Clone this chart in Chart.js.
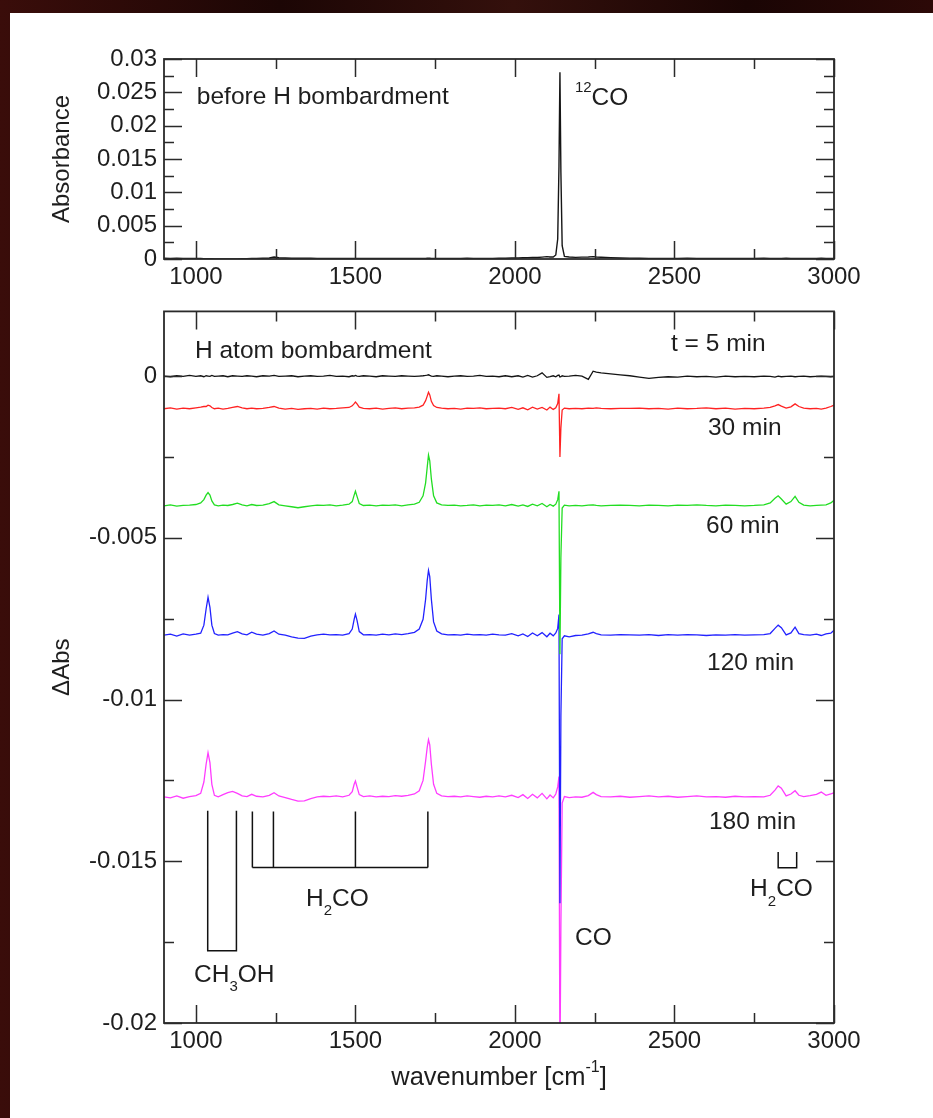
<!DOCTYPE html>
<html>
<head>
<meta charset="utf-8">
<script src="https://cdn.jsdelivr.net/npm/chart.js@4.4.1/dist/chart.umd.min.js"></script>
<style>
  html, body { margin: 0; padding: 0; }
  body {
    width: 933px; height: 1118px; position: relative; overflow: hidden;
    background: linear-gradient(90deg, #3a0d0a 0%, #1c0605 30%, #34100c 55%, #1a0504 80%, #2c0907 100%);
  }
  #sheet { position: absolute; left: 10px; top: 13px; right: 0; bottom: 0; background: #fff; }
  canvas { position: absolute; left: 0; }
  #topChart { top: 20px; }
  #mainChart { top: 290px; }
</style>
</head>
<body>
<div id="sheet"></div>
<canvas id="topChart" width="933" height="300"></canvas>
<canvas id="mainChart" width="933" height="828"></canvas>
<script>
// wavenumber grid (cm-1) shared by all spectra
const wn = [
  900, 920, 940, 960, 980, 1000, 1015, 1025, 1032, 1038,
  1044, 1050, 1058, 1070, 1085, 1100, 1115, 1130, 1145, 1160,
  1175, 1190, 1210, 1230, 1245, 1260, 1280, 1300, 1320, 1340,
  1360, 1380, 1400, 1420, 1440, 1460, 1480, 1490, 1496, 1500,
  1505, 1512, 1525, 1545, 1565, 1585, 1605, 1625, 1645, 1665,
  1685, 1700, 1712, 1720, 1725, 1729, 1733, 1738, 1745, 1755,
  1770, 1790, 1810, 1830, 1850, 1870, 1890, 1910, 1930, 1950,
  1970, 1990, 2010, 2025, 2040, 2055, 2070, 2085, 2100, 2110,
  2120, 2128, 2134, 2138, 2141, 2144, 2148, 2155, 2170, 2190,
  2210, 2230, 2245, 2255, 2270, 2300, 2330, 2360, 2390, 2420,
  2450, 2480, 2510, 2540, 2570, 2600, 2630, 2660, 2690, 2720,
  2750, 2780, 2800, 2815, 2825, 2835, 2850, 2865, 2878, 2890,
  2905, 2925, 2945, 2960, 2975, 2990, 3000
];

// absorbance before H bombardment (top panel)
const absBefore = [
  0.00012, 0.00010, 0.00011, 0.00009, 0.00010, 0.00008, 0.00007, 0.00006, 0.00006, 0.00005,
  0.00004, 0.00003, 0.00002, 0.00001, 0.00000, -0.00001, 0.00000, 0.00002, 0.00004, 0.00006,
  0.00008, 0.00010, 0.00012, 0.00016, 0.00030, 0.00018, 0.00014, 0.00012, 0.00012, 0.00011,
  0.00011, 0.00010, 0.00010, 0.00010, 0.00009, 0.00010, 0.00009, 0.00010, 0.00009, 0.00010,
  0.00010, 0.00009, 0.00010, 0.00009, 0.00010, 0.00009, 0.00010, 0.00009, 0.00010, 0.00009,
  0.00010, 0.00009, 0.00010, 0.00010, 0.00011, 0.00012, 0.00011, 0.00010, 0.00009, 0.00010,
  0.00010, 0.00009, 0.00010, 0.00010, 0.00011, 0.00010, 0.00009, 0.00010, 0.00010, 0.00011,
  0.00012, 0.00014, 0.00016, 0.00018, 0.00020, 0.00024, 0.00022, 0.00028, 0.00035, 0.00030,
  0.00030, 0.00060, 0.00300, 0.01400, 0.02800, 0.01300, 0.00200, 0.00040, 0.00030, 0.00025,
  0.00028, 0.00030, 0.00035, 0.00030, 0.00026, 0.00020, 0.00016, 0.00013, 0.00011, 0.00010,
  0.00010, 0.00009, 0.00010, 0.00011, 0.00010, 0.00009, 0.00010, 0.00010, 0.00009, 0.00010,
  0.00010, 0.00011, 0.00010, 0.00009, 0.00010, 0.00010, 0.00011, 0.00010, 0.00009, 0.00010,
  0.00010, 0.00009, 0.00010, 0.00011, 0.00010, 0.00009, 0.00010
];

// difference spectra during H atom bombardment (bottom panel, offset as plotted)
const dAbs5 = [
  0.00000, -0.00002, 0.00001, -0.00001, 0.00002, -0.00001, 0.00001, -0.00002, 0.00001, 0.00000,
  -0.00001, 0.00002, -0.00001, 0.00000, 0.00001, -0.00002, 0.00001, 0.00000, -0.00001, 0.00001,
  0.00000, -0.00002, 0.00001, 0.00000, 0.00002, -0.00001, 0.00000, 0.00001, -0.00002, 0.00000,
  0.00001, -0.00001, 0.00000, 0.00002, -0.00001, 0.00000, -0.00002, 0.00001, 0.00000, 0.00002,
  0.00000, -0.00001, 0.00001, 0.00000, -0.00002, 0.00001, 0.00000, -0.00001, 0.00001, 0.00000,
  -0.00001, 0.00000, 0.00001, 0.00002, 0.00003, 0.00004, 0.00002, 0.00000, -0.00001, 0.00001,
  0.00000, -0.00002, 0.00000, 0.00001, -0.00001, 0.00000, 0.00002, -0.00001, 0.00000, -0.00002,
  0.00001, -0.00002, 0.00001, -0.00003, 0.00002, -0.00003, 0.00001, 0.00010, -0.00004, -0.00002,
  0.00001, -0.00002, 0.00002, 0.00003, -0.00003, -0.00002, 0.00001, -0.00001, 0.00000, 0.00002,
  0.00000, -0.00010, 0.00015, 0.00012, 0.00010, 0.00007, 0.00004, 0.00001, -0.00003, -0.00007,
  -0.00004, -0.00002, -0.00003, 0.00000, -0.00002, -0.00001, -0.00003, 0.00000, -0.00002, -0.00001,
  -0.00002, 0.00000, -0.00001, -0.00003, 0.00000, -0.00002, -0.00001, 0.00000, -0.00002, -0.00001,
  0.00000, -0.00002, -0.00001, 0.00000, -0.00001, -0.00002, -0.00001
];
const dAbs30 = [
  -0.00101, -0.00098, -0.00102, -0.00099, -0.00101, -0.00098, -0.00096, -0.00094, -0.00094, -0.00090,
  -0.00092, -0.00097, -0.00101, -0.00099, -0.00102, -0.00100, -0.00097, -0.00094, -0.00098, -0.00101,
  -0.00099, -0.00101, -0.00100, -0.00097, -0.00094, -0.00099, -0.00102, -0.00100, -0.00103, -0.00101,
  -0.00100, -0.00102, -0.00099, -0.00101, -0.00100, -0.00098, -0.00097, -0.00092, -0.00085, -0.00080,
  -0.00086, -0.00096, -0.00100, -0.00101, -0.00099, -0.00102, -0.00100, -0.00098, -0.00101, -0.00099,
  -0.00098, -0.00096, -0.00090, -0.00076, -0.00062, -0.00050, -0.00058, -0.00078, -0.00091, -0.00097,
  -0.00099, -0.00101, -0.00100, -0.00102, -0.00099, -0.00100, -0.00098, -0.00101, -0.00100, -0.00099,
  -0.00101, -0.00097, -0.00103, -0.00098, -0.00104, -0.00096, -0.00102, -0.00097, -0.00105, -0.00096,
  -0.00103, -0.00098, -0.00085, -0.00055, -0.00250, -0.00160, -0.00105, -0.00099, -0.00101, -0.00100,
  -0.00101, -0.00099, -0.00100, -0.00098, -0.00100, -0.00101, -0.00100, -0.00100, -0.00099, -0.00101,
  -0.00100, -0.00102, -0.00099, -0.00101, -0.00100, -0.00098, -0.00101, -0.00099, -0.00102, -0.00100,
  -0.00101, -0.00099, -0.00097, -0.00092, -0.00088, -0.00093, -0.00099, -0.00095, -0.00086, -0.00094,
  -0.00099, -0.00101, -0.00100, -0.00102, -0.00099, -0.00094, -0.00090
];
const dAbs60 = [
  -0.00401, -0.00398, -0.00402, -0.00400, -0.00399, -0.00397, -0.00392, -0.00382, -0.00368, -0.00360,
  -0.00368, -0.00386, -0.00398, -0.00401, -0.00399, -0.00400, -0.00397, -0.00393, -0.00398, -0.00401,
  -0.00397, -0.00400, -0.00399, -0.00394, -0.00388, -0.00398, -0.00401, -0.00404, -0.00407, -0.00404,
  -0.00401, -0.00399, -0.00400, -0.00398, -0.00401, -0.00399, -0.00396, -0.00388, -0.00368, -0.00356,
  -0.00372, -0.00394, -0.00400, -0.00399, -0.00401, -0.00399, -0.00400, -0.00398, -0.00401, -0.00398,
  -0.00396, -0.00390, -0.00370, -0.00330, -0.00282, -0.00244, -0.00262, -0.00318, -0.00370, -0.00392,
  -0.00398, -0.00400, -0.00399, -0.00401, -0.00400, -0.00398, -0.00401, -0.00399, -0.00400, -0.00398,
  -0.00401, -0.00397, -0.00402, -0.00398, -0.00403, -0.00396, -0.00401, -0.00394, -0.00404, -0.00397,
  -0.00402, -0.00396, -0.00382, -0.00356, -0.00860, -0.00560, -0.00408, -0.00399, -0.00401, -0.00400,
  -0.00401, -0.00399, -0.00398, -0.00400, -0.00401, -0.00400, -0.00399, -0.00400, -0.00401, -0.00399,
  -0.00400, -0.00401, -0.00399, -0.00400, -0.00398, -0.00400, -0.00401, -0.00399, -0.00400, -0.00401,
  -0.00400, -0.00398, -0.00392, -0.00378, -0.00370, -0.00380, -0.00396, -0.00388, -0.00372, -0.00390,
  -0.00399, -0.00401, -0.00400, -0.00399, -0.00398, -0.00392, -0.00384
];
const dAbs120 = [
  -0.00801, -0.00798, -0.00804, -0.00797, -0.00801, -0.00798, -0.00795, -0.00770, -0.00720, -0.00684,
  -0.00715, -0.00770, -0.00796, -0.00801, -0.00799, -0.00800, -0.00795, -0.00790, -0.00797, -0.00800,
  -0.00792, -0.00798, -0.00801, -0.00796, -0.00788, -0.00798, -0.00801, -0.00806, -0.00810, -0.00811,
  -0.00804, -0.00800, -0.00798, -0.00800, -0.00799, -0.00801, -0.00796, -0.00782, -0.00752, -0.00736,
  -0.00755, -0.00790, -0.00800, -0.00799, -0.00801, -0.00798, -0.00800, -0.00797, -0.00799, -0.00796,
  -0.00792, -0.00782, -0.00752, -0.00690, -0.00632, -0.00601, -0.00620, -0.00690, -0.00760, -0.00788,
  -0.00797, -0.00800, -0.00799, -0.00801, -0.00798, -0.00800, -0.00799, -0.00801, -0.00798, -0.00800,
  -0.00801, -0.00796, -0.00803, -0.00797, -0.00805, -0.00794, -0.00803, -0.00793, -0.00806, -0.00795,
  -0.00803, -0.00794, -0.00780, -0.00737, -0.01630, -0.01050, -0.00812, -0.00803, -0.00806, -0.00802,
  -0.00801, -0.00797, -0.00792, -0.00796, -0.00800, -0.00801, -0.00799, -0.00800, -0.00801, -0.00799,
  -0.00802, -0.00799, -0.00801, -0.00799, -0.00800, -0.00802, -0.00800, -0.00801, -0.00799, -0.00801,
  -0.00800, -0.00799, -0.00796, -0.00780, -0.00770, -0.00778, -0.00800, -0.00794, -0.00776, -0.00796,
  -0.00799, -0.00801, -0.00798, -0.00802, -0.00797, -0.00795, -0.00786
];
const dAbs180 = [
  -0.01301, -0.01304, -0.01298, -0.01305, -0.01300, -0.01297, -0.01290, -0.01255, -0.01200, -0.01164,
  -0.01195, -0.01262, -0.01296, -0.01301, -0.01294, -0.01288, -0.01284, -0.01290, -0.01298, -0.01300,
  -0.01293, -0.01299, -0.01301, -0.01296, -0.01288, -0.01298, -0.01303, -0.01309, -0.01314, -0.01313,
  -0.01306, -0.01301, -0.01299, -0.01300, -0.01298, -0.01301, -0.01296, -0.01285, -0.01262, -0.01252,
  -0.01270, -0.01294, -0.01300, -0.01298, -0.01301, -0.01299, -0.01300, -0.01297, -0.01299, -0.01296,
  -0.01292, -0.01282, -0.01250, -0.01190, -0.01148, -0.01124, -0.01140, -0.01200, -0.01262, -0.01290,
  -0.01298, -0.01300, -0.01299, -0.01301, -0.01298, -0.01300, -0.01302, -0.01299, -0.01301, -0.01298,
  -0.01301, -0.01296, -0.01303, -0.01294, -0.01306, -0.01293, -0.01304, -0.01290, -0.01307, -0.01295,
  -0.01304, -0.01292, -0.01270, -0.01238, -0.02150, -0.01700, -0.01320, -0.01300, -0.01303, -0.01301,
  -0.01302, -0.01297, -0.01287, -0.01294, -0.01300, -0.01301, -0.01299, -0.01302, -0.01300, -0.01298,
  -0.01301, -0.01299, -0.01302, -0.01300, -0.01298, -0.01301, -0.01300, -0.01302, -0.01299, -0.01301,
  -0.01300, -0.01301, -0.01296, -0.01280, -0.01267, -0.01274, -0.01298, -0.01292, -0.01282, -0.01296,
  -0.01300, -0.01297, -0.01293, -0.01286, -0.01296, -0.01292, -0.01288
];

// axis ticks
const xTicks = [1000, 1500, 2000, 2500, 3000];
const xMinor = [1250, 1750, 2250, 2750];
const topYTicks = [0, 0.005, 0.01, 0.015, 0.02, 0.025, 0.03];
const topYMinor = [0.0025, 0.0075, 0.0125, 0.0175, 0.0225, 0.0275];
const mainYTicks = [-0.02, -0.015, -0.01, -0.005, 0];
const mainYMinor = [-0.0175, -0.0125, -0.0075, -0.0025];

// band assignment marks (wavenumbers)
const ch3ohBands = [1037, 1127];
const h2coBands = [1177, 1243, 1500, 1727];
const h2coHighBands = [2825, 2883];

const FONT = '"Liberation Sans", Arial, Helvetica, sans-serif';
const INK = '#1e1e1e';
const AXIS = '#2a2a2a';
Chart.defaults.font.family = FONT;
Chart.defaults.color = INK;

const fmt = v => String(+v.toFixed(4));
const pts = arr => wn.map((w, i) => ({ x: w, y: arr[i] }));

// text with sub/superscripts: parts = [[text, 0 normal | 1 sub | 2 sup], ...]
function richWidth(ctx, parts, size) {
  let w = 0;
  for (const [t, m] of parts) {
    ctx.font = (m ? Math.round(size * 0.62) : size) + 'px ' + FONT;
    w += ctx.measureText(t).width;
  }
  return w;
}
function drawRich(ctx, parts, x, y, size, align) {
  let cx = align === 'center' ? x - richWidth(ctx, parts, size) / 2 : x;
  ctx.textAlign = 'left';
  ctx.textBaseline = 'middle';
  ctx.fillStyle = INK;
  for (const [t, m] of parts) {
    const fs = m ? Math.round(size * 0.62) : size;
    ctx.font = fs + 'px ' + FONT;
    const dy = m === 1 ? size * 0.48 : m === 2 ? -size * 0.4 : 0;
    ctx.fillText(t, cx, y + dy);
    cx += ctx.measureText(t).width;
  }
}

// box around the plot with inward major / minor ticks on all four sides
function frameTicks(yMajor, yMinor) {
  return {
    id: 'frameTicks',
    afterDatasetsDraw(chart) {
      const { ctx, chartArea: a, scales: { x, y } } = chart;
      ctx.save();
      ctx.strokeStyle = AXIS;
      ctx.lineWidth = 1.5;
      ctx.beginPath();
      const xt = (vals, len) => vals.forEach(v => {
        const px = Math.round(x.getPixelForValue(v)) + 0.5;
        ctx.moveTo(px, a.bottom); ctx.lineTo(px, a.bottom - len);
        ctx.moveTo(px, a.top); ctx.lineTo(px, a.top + len);
      });
      const yt = (vals, len) => vals.forEach(v => {
        const py = Math.round(y.getPixelForValue(v)) + 0.5;
        ctx.moveTo(a.left, py); ctx.lineTo(a.left + len, py);
        ctx.moveTo(a.right, py); ctx.lineTo(a.right - len, py);
      });
      xt(xTicks, 18); xt(xMinor, 10);
      yt(yMajor, 18); yt(yMinor, 10);
      ctx.stroke();
      ctx.lineWidth = 1.8;
      ctx.strokeRect(a.left, a.top, a.right - a.left, a.bottom - a.top);
      ctx.restore();
    }
  };
}

function xScale(height, pad) {
  return {
    type: 'linear', min: 900, max: 3000,
    afterBuildTicks: s => { s.ticks = xTicks.map(v => ({ value: v })); },
    afterFit: s => { s.height = height; },
    grid: { display: false, drawTicks: false },
    border: { display: false },
    ticks: { padding: pad, font: { size: 24 }, color: INK, maxRotation: 0, autoSkip: false, callback: v => String(v) }
  };
}

function yScale(min, max, ticks, title) {
  return {
    type: 'linear', min: min, max: max,
    afterBuildTicks: s => { s.ticks = ticks.map(v => ({ value: v })); },
    afterFit: s => { s.width = 164; },
    grid: { display: false, drawTicks: false },
    border: { display: false },
    ticks: { padding: 7, font: { size: 24 }, color: INK, autoSkip: false, callback: v => fmt(v) },
    title: { display: true, text: title, font: { size: 24 }, color: INK, padding: { top: 48, bottom: 0 } }
  };
}

const lineDefaults = { pointRadius: 0, borderWidth: 1.3, tension: 0, fill: false };

// top panel
new Chart(document.getElementById('topChart'), {
  type: 'line',
  data: {
    datasets: [
      { ...lineDefaults, data: pts(absBefore), borderColor: '#161616', borderWidth: 1.4 }
    ]
  },
  options: {
    responsive: false, animation: false,
    layout: { padding: { top: 39, right: 99, left: 0, bottom: 0 } },
    plugins: { legend: { display: false }, tooltip: { enabled: false } },
    scales: {
      x: xScale(61, 4),
      y: yScale(0, 0.03, topYTicks, 'Absorbance')
    }
  },
  plugins: [frameTicks(topYTicks, topYMinor), {
    id: 'topNotes',
    afterDatasetsDraw(chart) {
      const { ctx, scales: { x, y } } = chart;
      ctx.save();
      drawRich(ctx, [['before H bombardment', 0]], x.getPixelForValue(1003), y.getPixelForValue(0.0243), 24.5);
      drawRich(ctx, [['12', 2], ['CO', 0]], x.getPixelForValue(2188), y.getPixelForValue(0.02415), 24.5);
      ctx.restore();
    }
  }]
});

// bottom panel
new Chart(document.getElementById('mainChart'), {
  type: 'line',
  data: {
    datasets: [
      { ...lineDefaults, data: pts(dAbs5), borderColor: '#141414' },
      { ...lineDefaults, data: pts(dAbs30), borderColor: '#ff2222' },
      { ...lineDefaults, data: pts(dAbs60), borderColor: '#22dd22' },
      { ...lineDefaults, data: pts(dAbs120), borderColor: '#2222ff' },
      { ...lineDefaults, data: pts(dAbs180), borderColor: '#ff3cff' }
    ]
  },
  options: {
    responsive: false, animation: false,
    layout: { padding: { top: 21, right: 99, left: 0, bottom: 0 } },
    plugins: { legend: { display: false }, tooltip: { enabled: false } },
    scales: {
      x: xScale(95, 4),
      y: yScale(-0.02, 0.002, mainYTicks, '\u0394Abs')
    }
  },
  plugins: [frameTicks(mainYTicks, mainYMinor), {
    id: 'mainNotes',
    afterDatasetsDraw(chart) {
      const { ctx, chartArea: a, scales: { x, y } } = chart;
      const X = v => x.getPixelForValue(v);
      const Y = v => y.getPixelForValue(v);
      ctx.save();
      ctx.strokeStyle = '#111';
      ctx.lineWidth = 1.5;
      ctx.beginPath();
      // CH3OH bracket
      ctx.moveTo(X(ch3ohBands[0]), Y(-0.01344));
      ctx.lineTo(X(ch3ohBands[0]), Y(-0.01777));
      ctx.lineTo(X(ch3ohBands[1]), Y(-0.01777));
      ctx.lineTo(X(ch3ohBands[1]), Y(-0.01344));
      // H2CO comb
      h2coBands.forEach(b => { ctx.moveTo(X(b), Y(-0.01346)); ctx.lineTo(X(b), Y(-0.01519)); });
      ctx.moveTo(X(h2coBands[0]), Y(-0.01519));
      ctx.lineTo(X(h2coBands[h2coBands.length - 1]), Y(-0.01519));
      // H2CO C-H stretch bracket
      ctx.moveTo(X(h2coHighBands[0]), Y(-0.01471));
      ctx.lineTo(X(h2coHighBands[0]), Y(-0.01520));
      ctx.lineTo(X(h2coHighBands[1]), Y(-0.01520));
      ctx.lineTo(X(h2coHighBands[1]), Y(-0.01471));
      ctx.stroke();

      const notes = [
        [[['H atom bombardment', 0]], 997, 0.00077],
        [[['t = 5 min', 0]], 2489, 0.00099],
        [[['30 min', 0]], 2605, -0.00161],
        [[['60 min', 0]], 2599, -0.00464],
        [[['120 min', 0]], 2602, -0.00889],
        [[['180 min', 0]], 2608, -0.01378],
        [[['H', 0], ['2', 1], ['CO', 0]], 1345, -0.01616],
        [[['CH', 0], ['3', 1], ['OH', 0]], 994, -0.01851],
        [[['CO', 0]], 2188, -0.01737],
        [[['H', 0], ['2', 1], ['CO', 0]], 2737, -0.01588]
      ];
      notes.forEach(([parts, wx, vy]) => drawRich(ctx, parts, X(wx), Y(vy), 24.5));

      drawRich(ctx, [['wavenumber [cm', 0], ['-1', 2], [']', 0]], (a.left + a.right) / 2, a.bottom + 55, 25.5, 'center');
      ctx.restore();
    }
  }]
});
</script>
</body>
</html>
